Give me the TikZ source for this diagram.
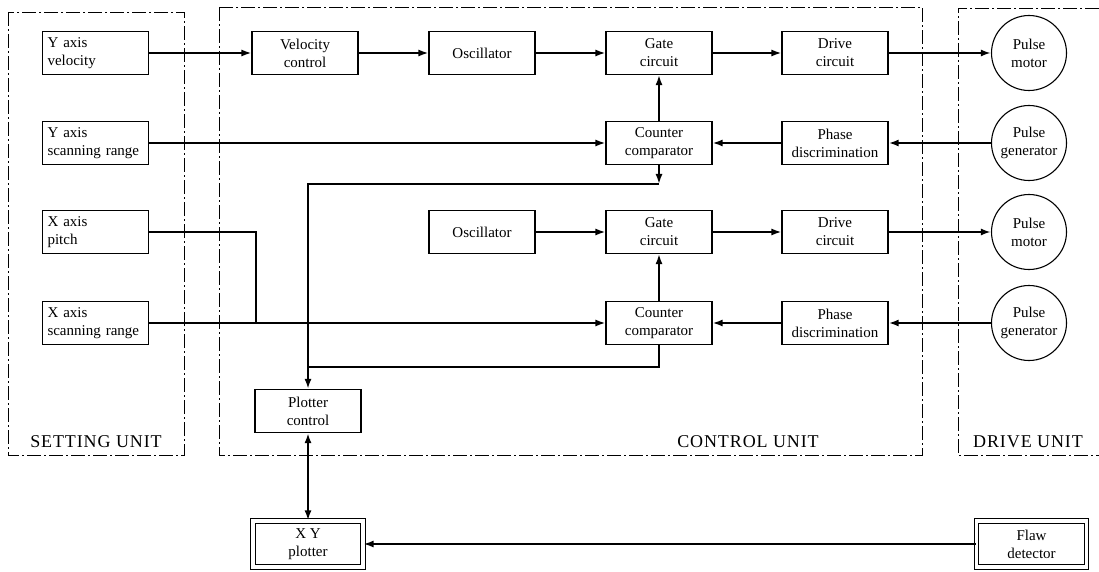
\documentclass[tikz,border=0pt]{standalone}
\usepackage{fontspec}
\setmainfont{Liberation Serif}
\newfontfamily\unitfont[LetterSpace=5]{Liberation Serif}
\usepackage{tikz}
\usetikzlibrary{arrows.meta,positioning}

\begin{document}
\begin{tikzpicture}[
  x=1pt, y=-1pt,
  every node/.style={font=\fontsize{15}{18}\selectfont},
  blk/.style={draw, line width=1.1pt, minimum width=106pt, minimum height=43pt,
              inner sep=1pt, align=center},
  setblk/.style={blk, text width=96pt, align=left},
  rot/.style={draw, circle, line width=1.1pt, minimum size=75pt, inner sep=0pt, align=center},
  dblk/.style={blk, double, double distance=3.5pt, minimum width=110pt, minimum height=46pt},
  frame/.style={line width=0.8pt, dash pattern=on 14pt off 3pt on 2pt off 3pt},
  unit/.style={font=\unitfont\fontsize{18}{18}\selectfont, anchor=base},
  ln/.style={line width=1.8pt},
  ar/.style={ln, -{Latex[length=10pt,width=7pt]}},
  thk/.style={line width=2.4pt}
]
\useasboundingbox (0,0) rectangle (1099,572);

% unit frames
\draw[frame] (8,12) rectangle (184,455);
\draw[frame] (219,7) rectangle (922,455);
\draw[frame] (1099,8) -- (958,8) -- (958,455) -- (1099,455);
\node[unit] (setu) at (96,447)  {SETTING UNIT};
\node[unit] (ctlu) at (748,447) {CONTROL UNIT};
\node[unit] (drvu) at (1028,447) {DRIVE UNIT};

% setting unit
\node[setblk] (yvel)   at (95.5,53)  {Y axis\\velocity};
\node[setblk] (yscan)  at (95.5,143) {Y axis\\scanning range};
\node[setblk] (xpitch) at (95.5,232) {X axis\\pitch};
\node[setblk] (xscan)  at (95.5,323) {X axis\\scanning range};

% control unit
\node[blk] (velc)   at (305,53)  {Velocity\\control};
\node[blk] (osc1)   at (482,53)  {Oscillator};
\node[blk] (gate1)  at (659,53)  {Gate\\circuit};
\node[blk] (drv1)   at (835,53)  {Drive\\circuit};
\node[blk] (cmp1)   at (659,143) {Counter\\comparator};
\node[blk] (phs1)   at (835,143) {Phase\\discrimination};
\node[blk] (osc2)   at (482,232) {Oscillator};
\node[blk] (gate2)  at (659,232) {Gate\\circuit};
\node[blk] (drv2)   at (835,232) {Drive\\circuit};
\node[blk] (cmp2)   at (659,323) {Counter\\comparator};
\node[blk] (phs2)   at (835,323) {Phase\\discrimination};
\node[blk] (plotc)  at (308,411) {Plotter\\control};

% drive unit
\node[rot] (mot1) at (1029,53)  {Pulse\\motor};
\node[rot] (gen1) at (1029,143) {Pulse\\generator};
\node[rot] (mot2) at (1029,232) {Pulse\\motor};
\node[rot] (gen2) at (1029,323) {Pulse\\generator};

% outside
\node[dblk] (xyp)  at (308,544)    {X Y\\plotter};
\node[dblk] (flaw) at (1031.5,544) {Flaw\\detector};

\coordinate (xj) at (256,323);
\coordinate (c1) at (659,184);
\coordinate (c2) at (308,367);

% Y axis chain
\draw[ar] (yvel)  -- (velc);
\draw[ar] (velc)  -- (osc1);
\draw[ar] (osc1)  -- (gate1);
\draw[ar] (gate1) -- (drv1);
\draw[ar, thk] (drv1) -- (mot1);
\draw[ar, thk] (gen1) -- (phs1);
\draw[ar] (phs1)  -- (cmp1);
\draw[ar] (cmp1)  -- (gate1);
\draw[ar] (yscan) -- (cmp1);

% X axis chain
\draw[ar] (osc2)  -- (gate2);
\draw[ar] (gate2) -- (drv2);
\draw[ar, thk] (drv2) -- (mot2);
\draw[ar, thk] (gen2) -- (phs2);
\draw[ar] (phs2)  -- (cmp2);
\draw[ar] (cmp2)  -- (gate2);
\draw[ar] (xscan) -- (cmp2);
\draw[ln] (xpitch) -| (xj);

% plotter
\draw[ar] (cmp1) -- (c1);
\draw[ar, thk] (c1) -| (plotc);
\draw[ln, thk] (cmp2) |- (c2);
\draw[ln, thk, {Latex[length=10pt,width=7pt]}-{Latex[length=10pt,width=7pt]}] (plotc) -- (xyp);
\draw[ar] (flaw) -- (xyp);

\end{tikzpicture}
\end{document}
